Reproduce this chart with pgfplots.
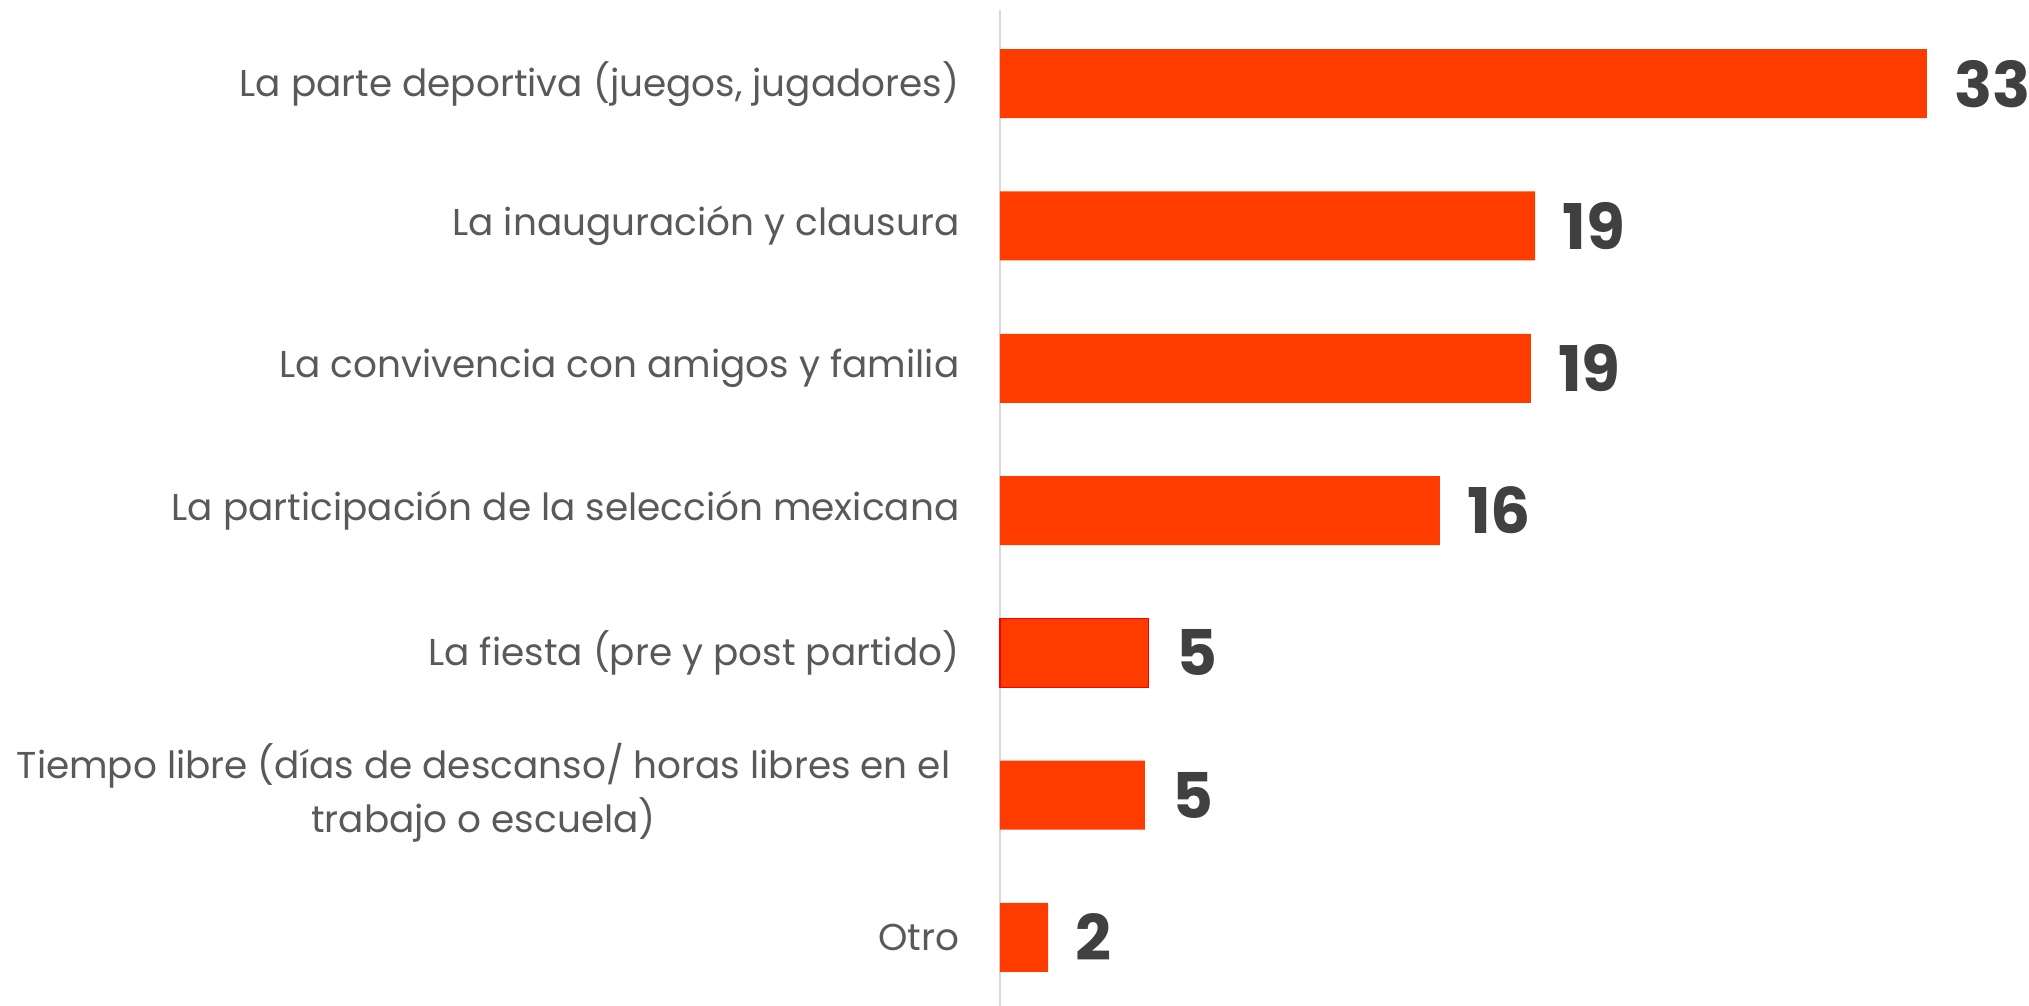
\documentclass[border=0pt]{standalone}
\usepackage{pgfplots}
\pgfplotsset{compat=1.18}
\usepackage{fontspec}
\setmainfont{Poppins}
\definecolor{barc}{HTML}{FF3C00}
\definecolor{labelgray}{HTML}{595959}
\definecolor{valgray}{HTML}{404040}
\definecolor{axisgray}{HTML}{D9D9D9}
\begin{document}
\begin{tikzpicture}
\useasboundingbox (-500pt,0) rectangle (514.5pt,503pt);
\begin{axis}[
  at={(0,0)}, anchor=south west,
  scale only axis, width=463.5pt, height=498pt,
  xmin=0, xmax=33, ymin=-0.518, ymax=6.482, y dir=reverse,
  axis x line=none, axis y line=left,
  y axis line style={draw=axisgray, line width=1pt, -},
  xtick=\empty, ytick={0,1,2,3,4,5,6},
  yticklabels={La parte deportiva (juegos{,} jugadores),La inauguración y clausura,La convivencia con amigos y familia,La participación de la selección mexicana,La fiesta (pre y post partido),{\begin{tabular}{@{}c@{\hspace{4.5pt}}}Tiempo libre (días de descanso/ horas libres en el\\trabajo o escuela)\end{tabular}},Otro},
  major tick length=0pt,
  yticklabel style={font=\fontsize{18.7}{27}\selectfont, text=labelgray, align=center, xshift=-16.8pt},
  xbar, bar width=34.5pt, bar shift=0pt,
  clip=false,
  nodes near coords, point meta=explicit symbolic,
  every node near coord/.append style={font=\fontsize{31.5}{32}\selectfont\bfseries, text=valgray, anchor=west, inner sep=0pt, xshift=13.5pt},
]
\addplot[fill=barc, draw=none] table[meta=lbl] {
x y lbl
33 0 33
19.05 1 19
18.9 2 19
15.66 3 16
5.16 5 5
1.71 6 2
};
\addplot[fill=barc, draw=red, line width=0.6pt] table[meta=lbl] {
x y lbl
5.3 4 5
};
\end{axis}
\end{tikzpicture}
\end{document}
